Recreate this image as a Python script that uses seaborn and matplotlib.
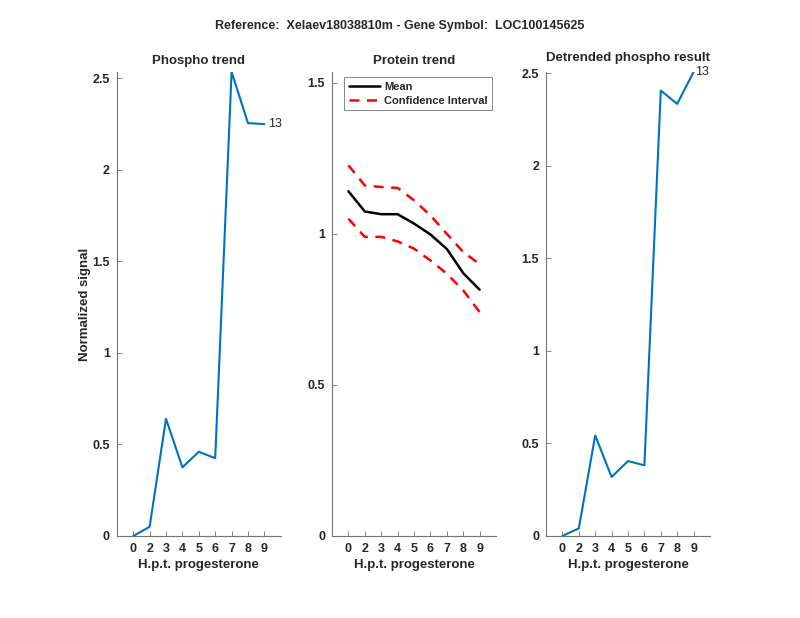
import numpy as np
import pandas as pd
import seaborn as sns
import matplotlib
matplotlib.use("Agg")
import matplotlib.pyplot as plt

# ---------------------------------------------------------
# Data
# ---------------------------------------------------------
tick_labels = ["0", "2", "3", "4", "5", "6", "7", "8", "9"]
positions = np.arange(1, len(tick_labels) + 1)

phospho = [0.0, 0.05, 0.64, 0.375, 0.46, 0.425, 2.535, 2.255, 2.25]
protein_mean = [1.141, 1.074, 1.065, 1.065, 1.034, 0.998, 0.95, 0.87, 0.815]
protein_upper = [1.227, 1.16, 1.155, 1.152, 1.111, 1.061, 1.0, 0.94, 0.90]
protein_lower = [1.05, 0.99, 0.99, 0.975, 0.951, 0.912, 0.868, 0.813, 0.741]
detrended = [0.0, 0.041, 0.543, 0.319, 0.405, 0.382, 2.407, 2.335, 2.508]

peptide_label = "13"
suptitle = "Reference:  Xelaev18038810m - Gene Symbol:  LOC100145625"

# ---------------------------------------------------------
# Style
# ---------------------------------------------------------
sns.set_theme(style="ticks")
plt.rcParams["font.family"] = ["Liberation Sans", "DejaVu Sans"]
plt.rcParams["font.weight"] = "bold"
plt.rcParams["axes.labelweight"] = "bold"
plt.rcParams["axes.titleweight"] = "bold"
plt.rcParams["text.color"] = "#262626"

blue = "#0072BD"
axis_col = "0.45"
tick_size = 9
label_size = 9.5
title_size = 9.5

fig = plt.figure(figsize=(8, 6.18), dpi=100)
bottom, height, width = 0.1327, 0.751, 0.205
ax1 = fig.add_axes([0.146, bottom, width, height])
ax2 = fig.add_axes([0.415, bottom, width, height])
ax3 = fig.add_axes([0.6825, bottom, width, height])

df = pd.DataFrame({
    "pos": positions,
    "phospho": phospho,
    "mean": protein_mean,
    "upper": protein_upper,
    "lower": protein_lower,
    "detrended": detrended,
})

# Phospho trend
sns.lineplot(data=df, x="pos", y="phospho", color=blue, linewidth=1.5, ax=ax1)
ax1.text(df["pos"].iloc[-1] + 0.25, df["phospho"].iloc[-1], peptide_label,
         va="center", ha="left", fontsize=9, fontweight="normal")
ax1.set_ylim(0, max(phospho))
ax1.set_yticks([0, 0.5, 1, 1.5, 2, 2.5])
ax1.set_yticklabels(["0", "0.5", "1", "1.5", "2", "2.5"])
ax1.set_title("Phospho trend", fontsize=title_size, pad=6)
ax1.set_ylabel("Normalized signal", fontsize=label_size)
ax1.yaxis.set_label_coords(-0.155, 0.5)

# Protein trend
sns.lineplot(data=df, x="pos", y="mean", color="black", linewidth=1.8,
             label="Mean", ax=ax2)
sns.lineplot(data=df, x="pos", y="upper", color="red", linewidth=1.8,
             linestyle=(0, (4, 3)), label="Confidence Interval", ax=ax2)
sns.lineplot(data=df, x="pos", y="lower", color="red", linewidth=1.8,
             linestyle=(0, (4, 3)), legend=False, ax=ax2)
ax2.set_ylim(0, 1.536)
ax2.set_yticks([0, 0.5, 1, 1.5])
ax2.set_yticklabels(["0", "0.5", "1", "1.5"])
ax2.set_title("Protein trend", fontsize=title_size, pad=6)
ax2.set_ylabel("")
leg = ax2.legend(loc="upper left", fontsize=8, frameon=True, fancybox=False,
                 borderaxespad=0.5, handlelength=2.8, handletextpad=0.4,
                 borderpad=0.4, labelspacing=0.35, bbox_to_anchor=(0.04, 1.0))
leg.get_frame().set_edgecolor("0.4")
leg.get_frame().set_linewidth(0.7)
for t in leg.get_texts():
    t.set_fontweight("bold")

# Detrended phospho result
sns.lineplot(data=df, x="pos", y="detrended", color=blue, linewidth=1.5, ax=ax3)
ax3.text(df["pos"].iloc[-1] + 0.1, df["detrended"].iloc[-1], peptide_label,
         va="center", ha="left", fontsize=9, fontweight="normal")
ax3.set_ylim(0, max(detrended))
ax3.set_yticks([0, 0.5, 1, 1.5, 2, 2.5])
ax3.set_yticklabels(["0", "0.5", "1", "1.5", "2", "2.5"])
ax3.set_title("Detrended phospho result", fontsize=title_size, pad=8)
ax3.set_ylabel("")

for ax in (ax1, ax2, ax3):
    ax.set_xlim(0, 10)
    ax.set_xticks(positions)
    ax.set_xticklabels(tick_labels)
    ax.set_xlabel("H.p.t. progesterone", fontsize=label_size, labelpad=3)
    ax.tick_params(direction="in", length=3.5, width=0.6, colors=axis_col,
                   labelcolor="#262626", labelsize=tick_size, pad=5)
    for lab in ax.get_xticklabels() + ax.get_yticklabels():
        lab.set_fontweight("bold")
    sns.despine(ax=ax)
    for side in ("left", "bottom"):
        ax.spines[side].set_color(axis_col)
        ax.spines[side].set_linewidth(0.8)

fig.suptitle(suptitle, fontsize=9, fontweight="bold", y=0.958, va="center")

fig.savefig("out.png", dpi=100)
